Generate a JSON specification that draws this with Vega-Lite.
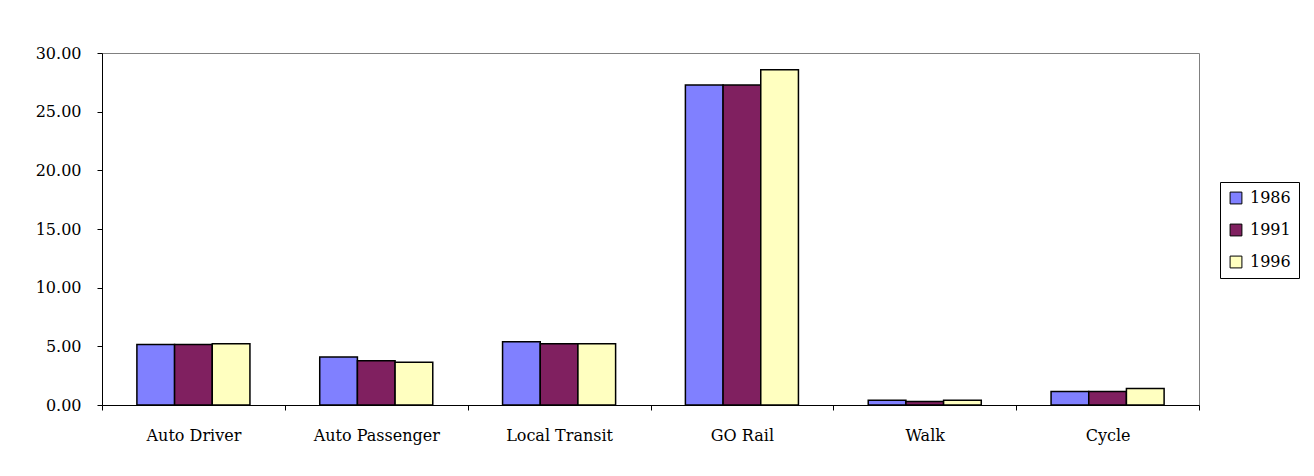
{
  "$schema": "https://vega.github.io/schema/vega-lite/v6.json",
  "autosize": {"type": "none"},
  "padding": {"left": 102, "top": 53, "right": 115, "bottom": 71},
  "width": 1097,
  "height": 352,
  "background": "white",
  "config": {
    "view": {"stroke": "#808080", "strokeWidth": 1},
    "font": "DejaVu Serif"
  },
  "data": {
    "values": [
      {"mode": "Auto Driver", "year": "1986", "value": 5.15},
      {"mode": "Auto Driver", "year": "1991", "value": 5.15},
      {"mode": "Auto Driver", "year": "1996", "value": 5.23},
      {"mode": "Auto Passenger", "year": "1986", "value": 4.09},
      {"mode": "Auto Passenger", "year": "1991", "value": 3.78},
      {"mode": "Auto Passenger", "year": "1996", "value": 3.64},
      {"mode": "Local Transit", "year": "1986", "value": 5.4},
      {"mode": "Local Transit", "year": "1991", "value": 5.23},
      {"mode": "Local Transit", "year": "1996", "value": 5.23},
      {"mode": "GO Rail", "year": "1986", "value": 27.27},
      {"mode": "GO Rail", "year": "1991", "value": 27.27},
      {"mode": "GO Rail", "year": "1996", "value": 28.58},
      {"mode": "Walk", "year": "1986", "value": 0.4},
      {"mode": "Walk", "year": "1991", "value": 0.29},
      {"mode": "Walk", "year": "1996", "value": 0.4},
      {"mode": "Cycle", "year": "1986", "value": 1.14},
      {"mode": "Cycle", "year": "1991", "value": 1.14},
      {"mode": "Cycle", "year": "1996", "value": 1.4}
    ]
  },
  "mark": {"type": "bar", "stroke": "black", "strokeWidth": 1.5},
  "encoding": {
    "x": {
      "field": "mode",
      "type": "nominal",
      "sort": ["Auto Driver", "Auto Passenger", "Local Transit", "GO Rail", "Walk", "Cycle"],
      "scale": {"paddingInner": 0, "paddingOuter": 0},
      "axis": {
        "title": null,
        "labelAngle": 0,
        "tickBand": "extent",
        "domainColor": "black",
        "tickColor": "black",
        "tickSize": 5,
        "labelPadding": 17,
        "labelFont": "DejaVu Serif",
        "labelFontSize": 16,
        "labelColor": "black"
      }
    },
    "xOffset": {
      "field": "year",
      "type": "nominal",
      "scale": {"paddingInner": 0, "paddingOuter": 0.926}
    },
    "y": {
      "field": "value",
      "type": "quantitative",
      "scale": {"domain": [0, 30], "nice": false},
      "axis": {
        "title": null,
        "values": [0, 5, 10, 15, 20, 25, 30],
        "format": ".2f",
        "grid": false,
        "domainColor": "black",
        "tickColor": "black",
        "tickSize": 5,
        "labelPadding": 16,
        "labelFont": "DejaVu Serif",
        "labelFontSize": 16,
        "labelColor": "black"
      }
    },
    "fill": {
      "field": "year",
      "type": "nominal",
      "scale": {"domain": ["1986", "1991", "1996"], "range": ["#8080FF", "#802060", "#FFFFC0"]},
      "legend": {
        "title": null,
        "orient": "none",
        "legendX": 1118,
        "legendY": 129,
        "symbolType": "square",
        "symbolSize": 140,
        "symbolStrokeColor": "black",
        "symbolStrokeWidth": 1,
        "symbolOpacity": 1,
        "labelFont": "DejaVu Serif",
        "labelFontSize": 16,
        "labelColor": "black",
        "labelOffset": 6,
        "rowPadding": 16,
        "padding": 8,
        "strokeColor": "black",
        "fillColor": "white"
      }
    }
  }
}
